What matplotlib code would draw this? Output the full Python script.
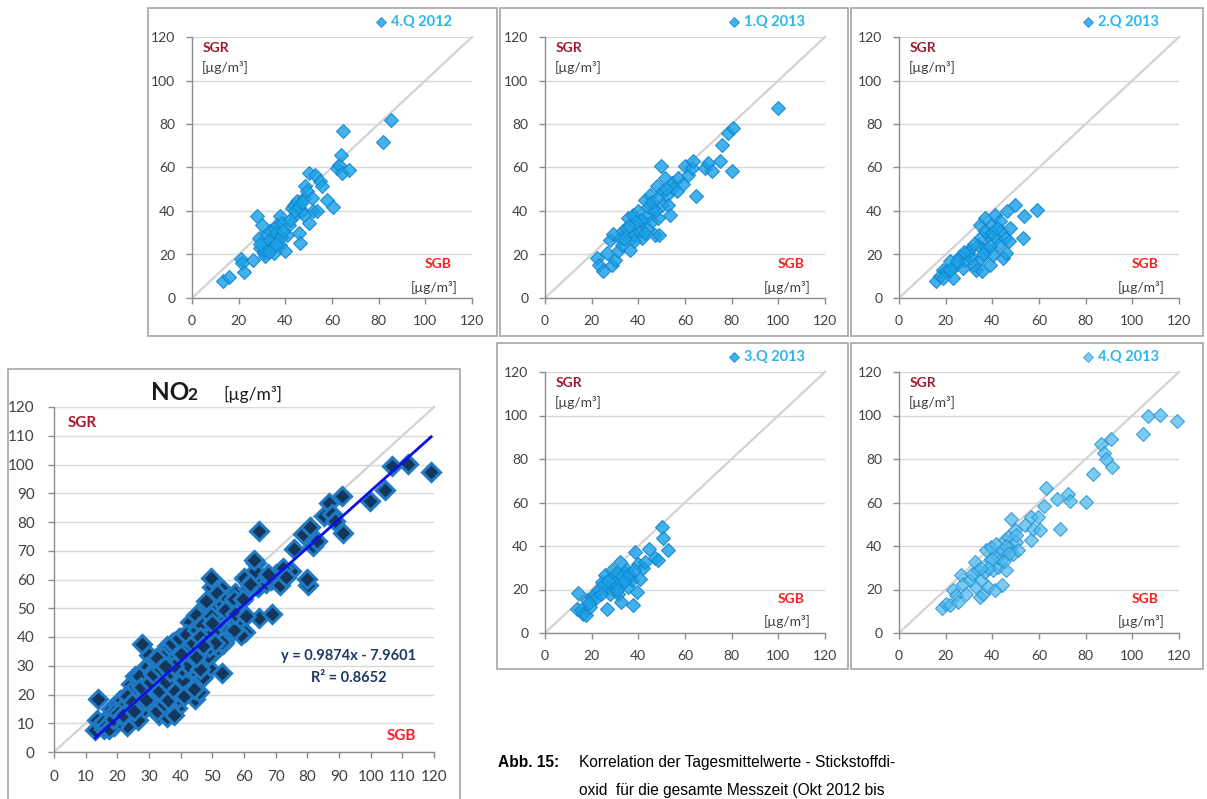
import matplotlib
matplotlib.use("Agg")
import matplotlib.pyplot as plt
from matplotlib.patches import Rectangle
from matplotlib import font_manager
import numpy as np

# ---------------- data ----------------
q4_2012_x = [13.1, 15.7, 21.0, 21.4, 22.4, 26.0, 27.9, 28.6, 29.3, 30.0, 30.7, 31.4, 32.0, 32.9,
             33.6, 34.3, 35.0, 35.7, 36.4, 37.1, 37.9, 37.9, 38.6, 40.0, 40.7, 41.4, 42.9, 43.6,
             44.3, 45.0, 45.7, 46.4, 47.1, 47.9, 48.3, 49.3, 50.0, 50.3, 51.4, 52.0, 52.9, 53.6,
             55.0, 55.7, 57.9, 60.3, 62.0, 62.9, 63.9, 64.7, 64.3, 67.1, 81.7, 85.4,
             33.0, 34.0, 36.0, 38.0, 39.0, 42.0, 44.0, 46.0, 47.0, 48.0, 36.0, 31.0, 29.0, 33.0]
q4_2012_y = [7.7, 9.5, 18.0, 16.0, 11.8, 17.6, 37.5, 27.6, 23.0, 33.7, 20.7, 19.2, 29.0, 24.5,
             30.6, 27.6, 20.7, 32.2, 33.7, 27.6, 37.5, 24.5, 34.5, 21.5, 29.0, 33.7, 41.4, 42.9,
             38.3, 44.4, 29.9, 25.3, 39.8, 46.0, 51.3, 49.0, 57.5, 34.5, 46.0, 39.8, 56.7, 39.8,
             53.6, 51.3, 45.2, 41.7, 59.8, 61.3, 65.6, 77.0, 57.5, 58.7, 71.7, 82.0,
             26.0, 23.0, 30.0, 28.0, 31.0, 36.0, 40.0, 42.0, 44.0, 38.0, 25.0, 22.0, 25.0, 21.0]

q1_2013_x = [22.1, 23.3, 25.0, 26.4, 27.9, 29.0, 28.6, 30.0, 31.4, 32.1, 32.9, 33.6, 34.7, 35.7,
             36.4, 37.1, 37.9, 38.6, 39.3, 40.0, 40.7, 41.4, 42.1, 42.9, 43.6, 44.3, 45.0, 45.7,
             46.4, 47.1, 47.9, 48.6, 49.0, 49.7, 50.0, 50.7, 51.4, 52.1, 52.9, 53.6, 54.3, 55.0,
             56.4, 57.1, 59.0, 60.0, 61.4, 62.9, 63.6, 64.6, 68.6, 70.0, 71.4, 75.0, 75.7, 78.6,
             80.7, 80.3, 99.7,
             44.0, 46.0, 41.0, 39.0, 36.0, 48.0, 47.0, 43.0, 38.0, 34.0, 52.0]
q1_2013_y = [18.4, 15.3, 12.3, 20.7, 26.8, 29.4, 15.3, 17.6, 21.5, 27.6, 24.5, 30.7, 32.2, 36.8,
             22.2, 27.6, 38.3, 29.1, 33.7, 39.8, 30.7, 27.6, 35.2, 45.2, 32.2, 38.3, 47.5, 35.2,
             41.4, 29.1, 51.3, 36.8, 29.1, 60.5, 42.9, 49.0, 55.2, 47.5, 42.9, 38.3, 52.9, 50.6,
             49.0, 55.2, 52.4, 60.5, 56.7, 59.8, 62.8, 46.7, 59.8, 62.0, 58.2, 63.1, 70.5, 75.9,
             78.2, 58.2, 87.4,
             42.0, 44.0, 36.0, 35.0, 33.0, 46.0, 40.0, 30.0, 26.0, 27.0, 50.0]

q2_2013_x = [15.7, 17.4, 18.9, 20.3, 21.7, 23.1, 24.6, 26.0, 27.4, 28.1, 29.6, 31.0, 32.0, 33.1,
             33.9, 34.6, 35.3, 35.7, 36.7, 37.4, 38.1, 38.9, 39.6, 40.3, 41.0, 41.7, 42.4, 43.1,
             43.9, 44.6, 45.3, 45.7, 46.3, 47.1, 47.7, 49.6, 53.1, 53.4, 59.1,
             25.0, 30.0, 35.0, 37.0, 40.0, 42.0, 39.0, 36.0, 32.0, 28.0, 22.0, 19.0]
q2_2013_y = [8.0, 10.0, 13.0, 12.3, 16.9, 9.2, 15.3, 19.2, 13.8, 17.6, 20.7, 18.4, 15.3, 13.0,
             24.5, 33.7, 18.4, 12.3, 36.8, 23.0, 29.1, 15.3, 33.0, 19.9, 38.3, 27.6, 24.5, 35.2,
             30.7, 18.4, 27.6, 20.7, 39.8, 26.1, 32.2, 42.9, 27.6, 37.5, 40.6,
             17.0, 22.0, 28.0, 31.0, 30.0, 32.0, 24.0, 20.0, 25.0, 21.0, 13.0, 9.0]

q3_2013_x = [14.0, 13.6, 15.4, 16.4, 17.4, 17.9, 19.3, 20.0, 21.4, 22.9, 24.3, 25.7, 26.4, 27.1,
             27.9, 28.6, 29.3, 30.0, 30.7, 31.4, 32.1, 32.6, 33.1, 34.3, 35.0, 35.7, 36.4, 37.1,
             37.9, 38.6, 39.3, 40.0, 40.7, 42.1, 42.9, 44.7, 47.1, 48.6, 50.0, 50.7, 52.9,
             25.0, 28.0, 30.0, 33.0, 31.0, 34.0, 36.0, 22.0, 24.0, 19.0, 27.0, 38.0]
q3_2013_y = [18.4, 11.2, 10.4, 8.9, 8.1, 15.1, 12.0, 16.6, 18.1, 19.7, 23.5, 26.6, 11.2, 21.2,
             18.1, 28.9, 24.3, 20.4, 27.4, 18.1, 32.7, 14.3, 22.7, 27.4, 28.9, 21.2, 25.8, 24.3,
             12.8, 37.3, 18.9, 31.9, 25.0, 29.7, 32.7, 38.4, 34.3, 33.5, 48.9, 43.8, 38.1,
             22.0, 25.0, 23.0, 26.0, 20.0, 24.0, 27.0, 16.0, 18.0, 14.0, 24.0, 29.0]

q4_2013_x = [18.6, 20.3, 21.7, 23.1, 24.6, 25.3, 26.7, 27.4, 28.9, 30.3, 31.4, 32.4, 33.1, 33.9,
             34.6, 35.3, 36.0, 36.7, 37.4, 38.1, 38.9, 39.6, 40.3, 41.0, 41.7, 42.4, 43.1, 43.9,
             44.3, 45.3, 46.0, 46.7, 47.4, 48.1, 48.9, 49.6, 50.3, 51.0, 53.9, 56.7, 56.7, 57.3,
             59.6, 60.6, 62.0, 63.1, 67.7, 68.9, 72.4, 73.4, 80.0, 83.1, 86.7, 87.7, 88.6, 91.0,
             91.4, 104.6, 106.7, 111.7, 119.1,
             42.0, 44.0, 40.0, 46.0, 38.0, 35.0, 50.0, 45.0, 47.0]
q4_2013_y = [11.5, 13.5, 12.7, 19.6, 17.3, 14.3, 26.5, 22.7, 18.1, 24.2, 27.3, 32.6, 21.1, 28.8,
             16.6, 24.2, 18.1, 28.0, 38.0, 21.1, 33.4, 39.5, 28.8, 19.6, 41.1, 30.3, 36.5, 33.4,
             21.9, 42.6, 28.8, 44.1, 39.5, 52.6, 36.5, 47.2, 41.8, 38.0, 49.5, 53.3, 42.6, 48.0,
             53.3, 47.2, 58.4, 66.8, 61.8, 48.0, 64.0, 60.7, 60.2, 73.3, 86.7, 82.8, 80.2, 89.0,
             76.3, 91.3, 99.6, 100.1, 97.3,
             35.0, 38.0, 34.0, 40.0, 30.0, 30.0, 45.0, 33.0, 37.0]

quarter_labels = ["4.Q 2012", "1.Q 2013", "2.Q 2013", "3.Q 2013", "4.Q 2013"]
quarter_x = [q4_2012_x, q1_2013_x, q2_2013_x, q3_2013_x, q4_2013_x]
quarter_y = [q4_2012_y, q1_2013_y, q2_2013_y, q3_2013_y, q4_2013_y]

small_ticks = [0, 20, 40, 60, 80, 100, 120]
big_ticks = [0, 10, 20, 30, 40, 50, 60, 70, 80, 90, 100, 110, 120]

trend_slope = 0.9874
trend_intercept = -7.9601
trend_r2 = 0.8652

caption_head = "Abb. 15:"
caption_lines = ["Korrelation der Tagesmittelwerte - Stickstoffdi-",
                 "oxid  für die gesamte Messzeit (Okt 2012 bis"]

# ---------------- layout ----------------
W, H = 1207, 799
fig = plt.figure(figsize=(W / 100, H / 100), dpi=100)
fig.patch.set_facecolor("white")

FONT = ["Lato", "DejaVu Sans"]
SGR_COL = "#A3192F"
SGB_COL = "#FF1E1E"
UNIT_COL = "#404040"
TICK_COL = "#404040"
GRID_COL = "#D9D9D9"
SPINE_COL = "#8C8C8C"
LEG_COL = "#2DB6EC"


def fbox(l, t, r, b):
    return [l / W, 1 - b / H, (r - l) / W, (b - t) / H]


def frame(l, t, r, b):
    fig.add_artist(Rectangle((l / W, 1 - b / H), (r - l) / W, (b - t) / H,
                             transform=fig.transFigure, fill=False,
                             edgecolor="#A6A6A6", lw=1.2))


def style_axes(ax, ticks, fs):
    ax.set_xlim(0, 120)
    ax.set_ylim(0, 120)
    ax.set_xticks(ticks)
    ax.set_yticks(ticks)
    ax.set_xticklabels([str(t) for t in ticks], fontfamily=FONT, fontsize=fs, color=TICK_COL)
    ax.set_yticklabels([str(t) for t in ticks], fontfamily=FONT, fontsize=fs, color=TICK_COL)
    for s in ["top", "right"]:
        ax.spines[s].set_visible(False)
    for s in ["left", "bottom"]:
        ax.spines[s].set_color(SPINE_COL)
        ax.spines[s].set_linewidth(1.0)
    ax.tick_params(axis="both", direction="out", length=4, color=SPINE_COL, width=1.0)
    ax.tick_params(axis="x", pad=8)
    ax.tick_params(axis="y", pad=8)
    ax.yaxis.grid(True, color=GRID_COL, lw=1.0)
    ax.set_axisbelow(True)
    ax.plot([0, 120], [0, 120], color="#D3D3D3", lw=1.6, zorder=1, clip_on=False)
    ax.set_facecolor("white")


small_panels = [
    # axes box (l, t, r, b), frame box
    ((192, 37, 472, 298), (148, 8, 497, 336)),
    ((545, 37, 825, 298), (500, 8, 848, 336)),
    ((899, 37, 1179, 298), (851, 8, 1203, 336)),
    ((545, 372, 825, 633), (497, 343, 848, 669)),
    ((899, 372, 1179, 633), (851, 343, 1203, 669)),
]
face_cols = [(0.10, 0.63, 0.90, 0.82)] * 4 + [(0.30, 0.72, 0.92, 0.72)]
edge_cols = [(0.08, 0.52, 0.82, 0.9)] * 4 + [(0.15, 0.58, 0.85, 0.85)]

for i, ((l, t, r, b), fr) in enumerate(small_panels):
    frame(*fr)
    ax = fig.add_axes(fbox(l, t, r, b))
    style_axes(ax, small_ticks, 10)
    ax.plot(quarter_x[i], quarter_y[i], linestyle="none", marker="D", markersize=6.8,
            markerfacecolor=face_cols[i], markeredgecolor=edge_cols[i], markeredgewidth=0.8,
            zorder=3, clip_on=False)
    aw, ah = r - l, b - t
    # labels inside
    ax.text(11 / aw, 1 - 11 / ah, "SGR", transform=ax.transAxes, color=SGR_COL,
            fontfamily=FONT, fontweight="bold", fontsize=10, va="center", ha="left")
    ax.text(10 / aw, 1 - 31 / ah, "[µg/m³]", transform=ax.transAxes, color=UNIT_COL,
            fontfamily=FONT, fontsize=10, va="center", ha="left")
    ax.text(1 - 34 / aw, 34 / ah, "SGB", transform=ax.transAxes, color=SGB_COL,
            fontfamily=FONT, fontweight="bold", fontsize=10, va="center", ha="center")
    ax.text(1 - 61 / aw, 11 / ah, "[µg/m³]", transform=ax.transAxes, color=UNIT_COL,
            fontfamily=FONT, fontsize=10, va="center", ha="left")
    # legend
    ax.plot([1 - 91 / aw], [1 + 15 / ah], transform=ax.transAxes, marker="D", markersize=5.5,
            markerfacecolor=face_cols[i], markeredgecolor=edge_cols[i], markeredgewidth=0.6,
            clip_on=False, linestyle="none")
    ax.text(1 - 81 / aw, 1 + 15 / ah, quarter_labels[i], transform=ax.transAxes, color=LEG_COL,
            fontfamily=FONT, fontweight="bold", fontsize=10.5, va="center", ha="left")

# ---------------- big combined panel ----------------
frame(8, 369, 460, 812)
bl, bt, br, bb = 54, 407, 434, 752
axb = fig.add_axes(fbox(bl, bt, br, bb))
style_axes(axb, big_ticks, 11)
axb.tick_params(axis="x", pad=9)
axb.tick_params(axis="y", pad=10)
all_x = np.concatenate([np.asarray(v, float) for v in quarter_x])
all_y = np.concatenate([np.asarray(v, float) for v in quarter_y])
axb.plot(all_x, all_y, linestyle="none", marker="D", markersize=9,
         markerfacecolor="#14365C", markeredgecolor="#1F7AC4", markeredgewidth=2.2,
         zorder=3, clip_on=False)
tx = np.array([all_x.min(), all_x.max()])
axb.plot(tx, trend_slope * tx + trend_intercept, color="#1010E6", lw=2.0, zorder=4)
bw, bh = br - bl, bb - bt
axb.text(14 / bw, 1 - 16 / bh, "SGR", transform=axb.transAxes, color=SGR_COL,
         fontfamily=FONT, fontweight="bold", fontsize=11, va="center", ha="left")
axb.text(1 - 33 / bw, 16 / bh, "SGB", transform=axb.transAxes, color=SGB_COL,
         fontfamily=FONT, fontweight="bold", fontsize=11, va="center", ha="center")
axb.text(1 - 85 / bw, 1 - 249 / bh, "y = %.4fx - %.4f" % (trend_slope, -trend_intercept),
         transform=axb.transAxes, color="#1F3864", fontfamily=FONT, fontweight="bold",
         fontsize=10.5, va="center", ha="center")
axb.text(1 - 85 / bw, 1 - 271 / bh, "R² = %.4f" % trend_r2,
         transform=axb.transAxes, color="#1F3864", fontfamily=FONT, fontweight="bold",
         fontsize=10.5, va="center", ha="center")

# title of big panel
fig.text(151 / W, 1 - 400 / H, "NO", fontfamily=FONT, fontweight="bold", fontsize=17.5,
         color="#1A1A1A", va="baseline", ha="left")
fig.text(187 / W, 1 - 400 / H, "2", fontfamily=FONT, fontweight="bold", fontsize=12.5,
         color="#1A1A1A", va="baseline", ha="left")
fig.text(223 / W, 1 - 400 / H, "[µg/m³]", fontfamily=FONT, fontsize=12.5,
         color="#1A1A1A", va="baseline", ha="left")

# ---------------- caption ----------------
_names = {f.name for f in font_manager.fontManager.ttflist}
if "Liberation Sans Narrow" in _names:
    CAP_FONT, CAP_FS = ["Liberation Sans Narrow", "DejaVu Sans"], 12.5
else:
    CAP_FONT, CAP_FS = ["Liberation Sans", "DejaVu Sans"], 11.2
fig.text(498 / W, 1 - 767 / H, caption_head, fontfamily=CAP_FONT, fontweight="bold",
         fontsize=CAP_FS, color="black", va="baseline", ha="left")
for k, line in enumerate(caption_lines):
    fig.text(579 / W, 1 - (767 + 28 * k) / H, line, fontfamily=CAP_FONT,
             fontsize=CAP_FS, color="black", va="baseline", ha="left")

fig.savefig("out.png", dpi=100, facecolor="white")
